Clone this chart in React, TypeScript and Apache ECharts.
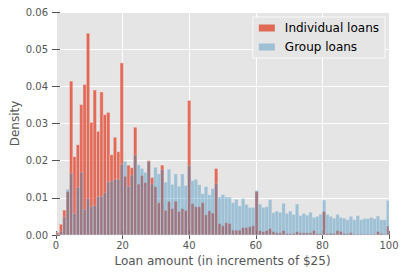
import React, { useEffect, useRef } from "react";
import * as echarts from "echarts";

// Histogram bin width (in units of $25) and bin start
const BIN_START = 0;
const BIN_WIDTH = 1.0125;

// Density per bin, individual loans
const individualLoans = [
  0.0007, 0.0029, 0.0067, 0.0117, 0.0414, 0.0211, 0.0243, 0.0351, 0.0405, 0.0543,
  0.0303, 0.0390, 0.0279, 0.0385, 0.0324, 0.0330, 0.0216, 0.0263, 0.0224, 0.0463,
  0.0158, 0.0188, 0.0181, 0.0290, 0.0137, 0.0160, 0.0141, 0.0200, 0.0155, 0.0130,
  0.0087, 0.0188, 0.0066, 0.0090, 0.0071, 0.0091, 0.0063, 0.0071, 0.0066, 0.0362,
  0.0084, 0.0076, 0.0076, 0.0087, 0.0054, 0.0065, 0.0059, 0.0179, 0.0031, 0.0025,
  0.0033, 0.0031, 0.0013, 0.0013, 0.0013, 0.0020, 0.0020, 0.0022, 0.0025, 0.0117,
  0.0012, 0.0009, 0.0012, 0.0017, 0.0009, 0.0006, 0.0006, 0.0012, 0.0004, 0.0004,
  0.0004, 0.0009, 0.0006, 0.0006, 0.0006, 0.0006, 0.0012, 0.0004, 0.0004, 0.0063,
  0.0004, 0.0005, 0.0004, 0.0012, 0.0009, 0.0004, 0.0004, 0.0006, 0.0002, 0.0002,
  0.0002, 0.0002, 0.0002, 0.0002, 0.0002, 0.0009, 0.0004, 0.0002, 0.0024,
];

// Density per bin, group loans
const groupLoans = [
  0.0003, 0.0010, 0.0048, 0.0123, 0.0166, 0.0058, 0.0128, 0.0169, 0.0069, 0.0098,
  0.0076, 0.0079, 0.0103, 0.0104, 0.0114, 0.0143, 0.0145, 0.0150, 0.0150, 0.0190,
  0.0198, 0.0131, 0.0161, 0.0215, 0.0189, 0.0179, 0.0168, 0.0197, 0.0137, 0.0182,
  0.0164, 0.0176, 0.0142, 0.0177, 0.0136, 0.0164, 0.0131, 0.0164, 0.0133, 0.0187,
  0.0146, 0.0150, 0.0135, 0.0111, 0.0130, 0.0108, 0.0125, 0.0138, 0.0102, 0.0109,
  0.0102, 0.0102, 0.0087, 0.0096, 0.0078, 0.0098, 0.0082, 0.0074, 0.0074, 0.0120,
  0.0083, 0.0074, 0.0076, 0.0095, 0.0060, 0.0064, 0.0061, 0.0085, 0.0058, 0.0064,
  0.0055, 0.0083, 0.0052, 0.0058, 0.0053, 0.0061, 0.0047, 0.0050, 0.0056, 0.0094,
  0.0055, 0.0050, 0.0045, 0.0055, 0.0047, 0.0045, 0.0041, 0.0050, 0.0041, 0.0052,
  0.0041, 0.0044, 0.0044, 0.0047, 0.0044, 0.0051, 0.0041, 0.0041, 0.0093,
];

const seriesNames = ["Individual loans", "Group loans"];
const xAxisName = "Loan amount (in increments of $25)";
const yAxisName = "Density";
const X_MIN = 0;
const X_MAX = 100;
const X_STEP = 20;
const Y_MIN = 0;
const Y_MAX = 0.06;
const Y_STEP = 0.01;

const RED = "#E24A33";
const BLUE = "#348ABD";
const FONT = "DejaVu Sans";
const GREY = "#555555";

function toBins(values: number[]) {
  return values.map((v, i) => [
    BIN_START + i * BIN_WIDTH,
    BIN_START + (i + 1) * BIN_WIDTH,
    v,
  ]);
}

function makeRender(fill: string, opacity: number) {
  return (params: any, api: any) => {
    const x0 = api.value(0);
    const x1 = api.value(1);
    const v = api.value(2);
    const p0 = api.coord([x0, v]);
    const p1 = api.coord([x1, 0]);
    const cs = params.coordSys;
    const right = Math.min(p1[0], cs.x + cs.width);
    const w = right - p0[0];
    if (w <= 0) return null;
    return {
      type: "rect",
      shape: { x: p0[0], y: p0[1], width: w, height: p1[1] - p0[1] },
      style: { fill, stroke: "#EEEEEE", lineWidth: 0.5, opacity },
    };
  };
}

export default function App() {
  const ref = useRef<HTMLDivElement>(null);

  useEffect(() => {
    if (!ref.current) return;
    const chart = echarts.init(ref.current, null, { renderer: "svg" });
    const tickStyle = { show: true, inside: false, length: 4, lineStyle: { color: GREY, width: 1 } };
    chart.setOption({
      animation: false,
      backgroundColor: "#FFFFFF",
      grid: {
        left: 56,
        top: 12,
        width: 333,
        height: 223,
        backgroundColor: "#E5E5E5",
        show: true,
        borderWidth: 0,
        containLabel: false,
        outerBoundsMode: "none",
      },
      legend: {
        orient: "vertical",
        right: 21,
        top: 17,
        backgroundColor: "#E5E5E5",
        borderColor: "rgba(255,255,255,0.8)",
        borderWidth: 1,
        padding: [4, 6, 4, 6],
        itemWidth: 16,
        itemHeight: 7,
        itemGap: 5,
        textStyle: { fontFamily: FONT, fontSize: 12, color: "#000000", padding: [0, 0, 0, 5], lineHeight: 14 },
        data: [
          { name: seriesNames[0], icon: "rect", itemStyle: { color: "rgba(226,74,51,0.8)" } },
          { name: seriesNames[1], icon: "rect", itemStyle: { color: "rgba(52,138,189,0.4)" } },
        ],
      },
      xAxis: [
        {
          type: "value",
          min: X_MIN,
          max: X_MAX,
          interval: X_STEP,
          name: xAxisName,
          nameLocation: "middle",
          nameGap: 20,
          nameMoveOverlap: false,
          nameTextStyle: { fontFamily: FONT, fontSize: 12, color: GREY },
          axisLine: { show: false },
          axisTick: tickStyle,
          axisLabel: { fontFamily: FONT, fontSize: 10, color: GREY, margin: 5 },
          splitLine: { show: true, lineStyle: { color: "#FFFFFF", width: 1 } },
        },
        {
          type: "value",
          position: "top",
          min: X_MIN,
          max: X_MAX,
          interval: X_STEP,
          axisLine: { show: false },
          axisTick: tickStyle,
          axisLabel: { show: false },
          splitLine: { show: false },
        },
      ],
      yAxis: [
        {
          type: "value",
          min: Y_MIN,
          max: Y_MAX,
          interval: Y_STEP,
          name: yAxisName,
          nameLocation: "middle",
          nameGap: 35,
          nameMoveOverlap: false,
          nameTextStyle: { fontFamily: FONT, fontSize: 12, color: GREY },
          axisLine: { show: false },
          axisTick: tickStyle,
          axisLabel: {
            fontFamily: FONT,
            fontSize: 10,
            color: GREY,
            margin: 8,
            formatter: (v: number) => v.toFixed(2),
          },
          splitLine: { show: true, lineStyle: { color: "#FFFFFF", width: 1 } },
        },
        {
          type: "value",
          position: "right",
          min: Y_MIN,
          max: Y_MAX,
          interval: Y_STEP,
          axisLine: { show: false },
          axisTick: tickStyle,
          axisLabel: { show: false },
          splitLine: { show: false },
        },
      ],
      series: [
        {
          name: seriesNames[0],
          type: "custom",
          xAxisIndex: 0,
          yAxisIndex: 0,
          itemStyle: { color: RED },
          encode: { x: [0, 1], y: 2 },
          renderItem: makeRender(RED, 0.8),
          data: toBins(individualLoans),
        },
        {
          name: seriesNames[1],
          type: "custom",
          xAxisIndex: 0,
          yAxisIndex: 0,
          itemStyle: { color: BLUE },
          encode: { x: [0, 1], y: 2 },
          renderItem: makeRender(BLUE, 0.4),
          data: toBins(groupLoans),
        },
      ],
    });
    return () => chart.dispose();
  }, []);

  return (
    <div
      ref={ref}
      style={{ position: "absolute", left: 0, top: 0, width: 406, height: 278 }}
    />
  );
}
